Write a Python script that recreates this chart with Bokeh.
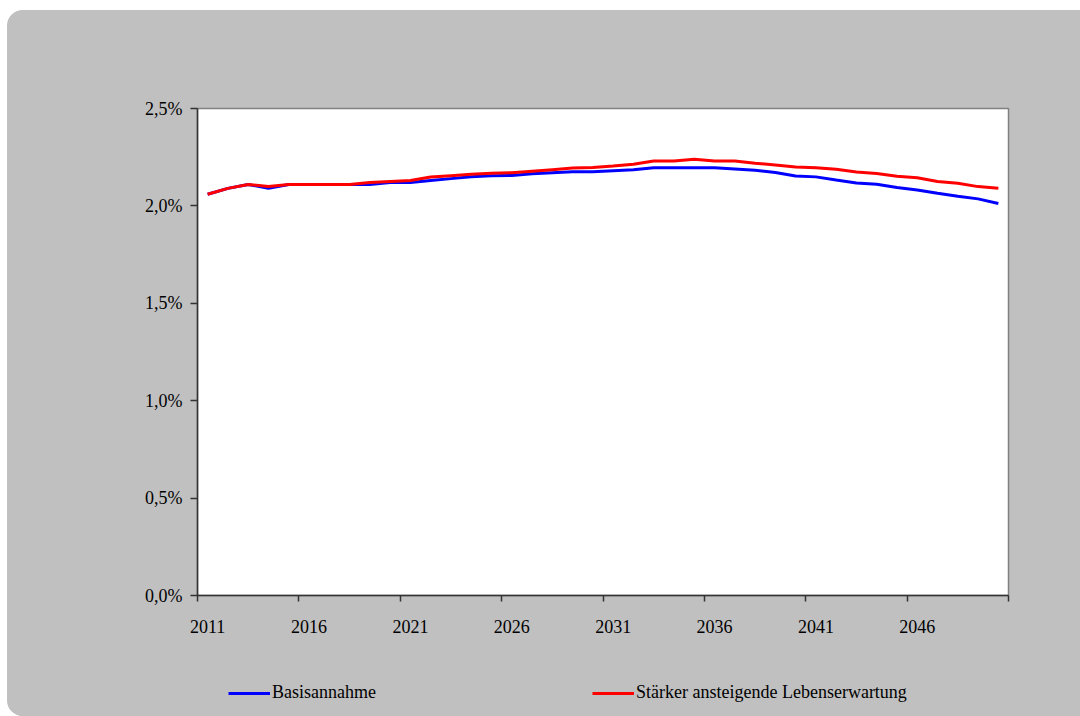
from bokeh.plotting import figure
from bokeh.models import Range1d, FixedTicker, Legend, LegendItem, LinearAxis
from bokeh.layouts import column
from bokeh.embed import file_html
from bokeh.resources import INLINE

# Data (percent)
years = list(range(2011, 2051))
basis = [2.06, 2.09, 2.11, 2.09, 2.11, 2.11, 2.11, 2.11, 2.11, 2.12,
         2.12, 2.13, 2.14, 2.15, 2.155, 2.156, 2.165, 2.17, 2.175, 2.175,
         2.18, 2.185, 2.196, 2.196, 2.196, 2.196, 2.19, 2.183, 2.171, 2.154,
         2.149, 2.133, 2.118, 2.111, 2.094, 2.082, 2.065, 2.05, 2.036, 2.012]
staerker = [2.06, 2.09, 2.11, 2.10, 2.11, 2.11, 2.11, 2.11, 2.12, 2.125,
            2.13, 2.148, 2.155, 2.162, 2.168, 2.17, 2.178, 2.186, 2.194, 2.197,
            2.205, 2.214, 2.23, 2.23, 2.24, 2.23, 2.23, 2.219, 2.21, 2.20,
            2.196, 2.188, 2.174, 2.166, 2.152, 2.145, 2.125, 2.116, 2.099, 2.091]
x_tick_labels = ["2011", "2016", "2021", "2026", "2031", "2036", "2041", "2046"]
y_ticks = [0.0, 0.5, 1.0, 1.5, 2.0, 2.5]
y_tick_labels = ["0,0%", "0,5%", "1,0%", "1,5%", "2,0%", "2,5%"]
series_names = ["Basisannahme", "Stärker ansteigende Lebenserwartung"]
series_colors = ["#0000ff", "#ff0000"]

FONT = "Liberation Serif"
GRAY = "#c0c0c0"
label_years = [int(s) for s in x_tick_labels]
boundaries = [y - 0.5 for y in label_years] + [years[-1] + 0.5]

p = figure(width=1073, height=636, output_backend="svg", toolbar_location=None,
           x_range=Range1d(years[0] - 0.5, years[-1] + 0.5),
           y_range=Range1d(y_ticks[0], y_ticks[-1]),
           x_axis_type=None, y_axis_type=None,
           min_border_left=190, min_border_right=72,
           min_border_top=98, min_border_bottom=51)
p.border_fill_color = GRAY
p.background_fill_color = "white"
p.outline_line_color = "#808080"
p.outline_line_width = 1.5

# X axis: labels at category centres, tick marks at category boundaries
xax = LinearAxis(ticker=FixedTicker(ticks=label_years, minor_ticks=boundaries))
xax.major_label_overrides = {y: s for y, s in zip(label_years, x_tick_labels)}
xax.major_tick_in = 0
xax.major_tick_out = 0
xax.minor_tick_in = 0
xax.minor_tick_out = 6
xax.minor_tick_line_color = "#333333"
xax.minor_tick_line_width = 1.5
xax.axis_line_color = "#333333"
xax.axis_line_width = 1.5
xax.major_label_standoff = 18
xax.major_label_text_font = FONT
xax.major_label_text_font_size = "18px"
xax.major_label_text_color = "black"
p.add_layout(xax, "below")

yax = LinearAxis(ticker=FixedTicker(ticks=y_ticks, minor_ticks=[]))
yax.major_label_overrides = {t: s for t, s in zip(y_ticks, y_tick_labels)}
yax.major_tick_in = 0
yax.major_tick_out = 7
yax.major_tick_line_color = "#333333"
yax.major_tick_line_width = 1.5
yax.axis_line_color = "#333333"
yax.axis_line_width = 1.5
yax.major_label_standoff = 8
yax.major_label_text_font = FONT
yax.major_label_text_font_size = "18px"
yax.major_label_text_color = "black"
p.add_layout(yax, "left")

p.xgrid.ticker = FixedTicker(ticks=boundaries)
p.ygrid.ticker = FixedTicker(ticks=y_ticks)
p.xgrid.grid_line_color = "#c8c8c8"
p.ygrid.grid_line_color = "#d0d0d0"

p.line(years, basis, line_color=series_colors[0], line_width=3)
p.line(years, staerker, line_color=series_colors[1], line_width=3)

# Legend strip below the chart (same grey panel); its frame is aligned with p's
lp = figure(width=1073, height=70, output_backend="svg", toolbar_location=None,
            x_range=Range1d(0, 1), y_range=Range1d(0, 1),
            x_axis_type=None, y_axis_type=None, min_border=0)
lp.border_fill_color = GRAY
lp.background_fill_color = GRAY
lp.outline_line_color = None
lp.xgrid.visible = False
lp.ygrid.visible = False
items = []
for name, col in zip(series_names, series_colors):
    rr = lp.line([float("nan")], [float("nan")], line_color=col, line_width=3)
    items.append(LegendItem(label=name, renderers=[rr]))
legend = Legend(items=items, orientation="horizontal", location=(31, 13),
                glyph_width=42, glyph_height=20, label_standoff=2, spacing=216,
                padding=0, margin=0, border_line_color=None,
                background_fill_alpha=0,
                label_text_font=FONT, label_text_font_size="18px",
                label_text_color="black")
lp.add_layout(legend, "center")

layout = column(p, lp, spacing=0)
layout.margin = (10, 0, 0, 7)
layout.styles = {"border-radius": "16px 0 0 16px", "overflow": "hidden",
                 "background-color": GRAY}

open("out.html", "w").write(file_html(layout, INLINE))
